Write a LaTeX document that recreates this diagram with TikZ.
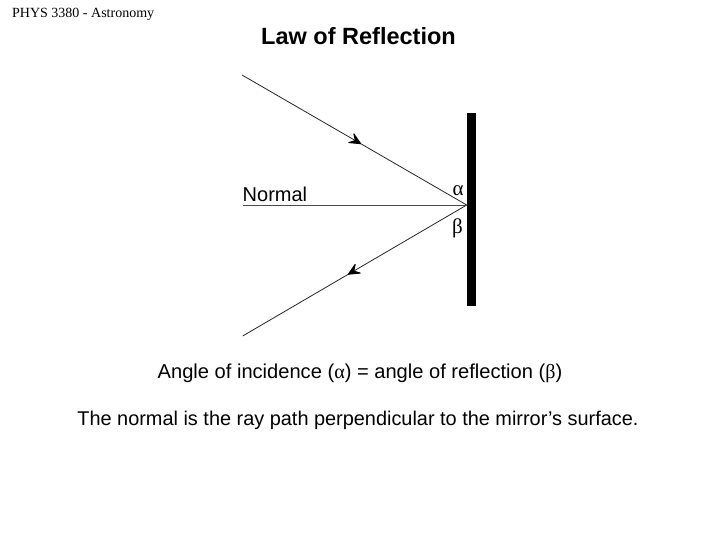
\documentclass[tikz,border=0pt]{standalone}
\usepackage{fontspec}
\setmainfont{Liberation Sans}
\newfontfamily\timesf{Liberation Serif}
\usetikzlibrary{arrows.meta,decorations.markings}
\begin{document}
\begin{tikzpicture}[x=1pt,y=-1pt,
  ray/.style={draw=black!85, line width=0.8pt},
  midarrow/.style={postaction={decorate},decoration={markings,
     mark=at position #1 with {\arrow{Stealth[length=14pt,width=13pt,inset=6pt,round,color=black,line width=1pt]}}}},
  txt/.style={inner sep=0pt, anchor=base},
  greek/.style={inner sep=0pt, font=\timesf\fontsize{21}{24}\selectfont}]
\useasboundingbox[fill=white] (0,0) rectangle (720,540);
\node[txt, font=\timesf\fontsize{14}{16}\selectfont, anchor=base west] (hdr) at (12,17.5) {PHYS 3380 - Astronomy};
\node[txt, font=\bfseries\fontsize{23.5}{26}\selectfont] (title) at (358.5,45) {Law of Reflection};
\coordinate (A) at (242,75);
\coordinate (P) at (466.7,205);
\coordinate (N) at (242.7,205);
\coordinate (B) at (242.7,336);
\node[fill=black, inner sep=0pt, minimum width=9.5pt, minimum height=193pt] (mirror) at (471.5,209.5) {};
\draw[ray, midarrow=0.53] (A) -- (P);
\draw[ray, midarrow=0.53] (P) -- (B);
\draw[draw=black!70, line width=0.7pt] (N) -- (P);
\node[txt, font=\fontsize{20}{22}\selectfont, anchor=base west] (normal) at (242.5,201.7) {Normal};
\node[greek] (alpha) at (458,191) {α};
\node[greek] (beta) at (457.5,228) {β};
\node[txt, font=\fontsize{20.1}{22}\selectfont] (line1) at (360,378) {Angle of incidence ({\timesf α}) = angle of reflection ({\timesf β})};
\node[txt, font=\fontsize{19.9}{22}\selectfont] (line2) at (358,425) {The normal is the ray path perpendicular to the mirror’s surface.};
\end{tikzpicture}
\end{document}
